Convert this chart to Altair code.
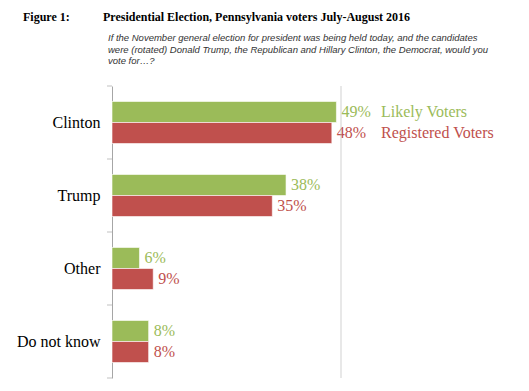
import altair as alt
import pandas as pd

categories = ["Clinton", "Trump", "Other", "Do not know"]
series = ["Likely Voters", "Registered Voters"]
likely = [49, 38, 6, 8]
registered = [48, 35, 9, 8]
colors = ["#9BBB59", "#C0504D"]

title_fig = "Figure 1:"
title_main = "Presidential Election, Pennsylvania voters July-August 2016"
subtitle_lines = [
    "If the November general election for president was being held today, and the candidates",
    "were (rotated) Donald Trump, the Republican and Hillary Clinton, the Democrat, would you",
    "vote for\u2026?",
]

SERIF = "Liberation Serif, Times New Roman, serif"
HALF = 0.288  # bar thickness as a fraction of a category band
W, H = 229, 292
n = len(categories)


def series_df(values, k):
    mids = [i + 0.5 for i in range(n)]
    if k == 0:
        y0 = [m - HALF for m in mids]
        y1 = mids
    else:
        y0 = mids
        y1 = [m + HALF for m in mids]
    return pd.DataFrame({
        "cat": categories, "val": values, "zero": [0] * n,
        "lab": [f"{v}%" for v in values],
        "y0": y0, "y1": y1, "ym": [(a + b) / 2 for a, b in zip(y0, y1)],
        "name": [series[k]] * n,
    })


cat_js = "[" + ",".join(f"'{c}'" for c in categories) + "]"
y_scale = alt.Scale(domain=[0, n], reverse=True, nice=False, zero=False)
y_axis = alt.Axis(
    title="", values=[i + 0.5 for i in range(n)],
    labelExpr=f"{cat_js}[floor(datum.value)]",
    labelFont=SERIF, labelFontSize=16, labelColor="#000000",
    domainColor="#A6A6A6", ticks=False, labelPadding=12, grid=False,
)
x_scale = alt.Scale(domain=[0, 50], nice=False, zero=False)
x_axis = alt.Axis(title="", labels=False, ticks=False, domain=False, grid=False)

layers = []
for k, vals_ in enumerate([likely, registered]):
    d = series_df(vals_, k)
    ch = alt.Chart(d)
    layers.append(ch.mark_rect(color=colors[k], stroke="white", strokeWidth=0.6).encode(
        y=alt.Y("y0:Q", scale=y_scale, axis=y_axis), y2="y1:Q",
        x=alt.X("zero:Q", scale=x_scale, axis=x_axis), x2="val:Q"))
    layers.append(ch.mark_text(align="left", baseline="middle", dx=5,
                               font=SERIF, fontSize=16, color=colors[k]).encode(
        y=alt.Y("ym:Q", scale=y_scale, axis=y_axis),
        x=alt.X("val:Q", scale=x_scale, axis=x_axis), text="lab:N"))
    dn = d.iloc[:1]
    layers.append(alt.Chart(dn).mark_text(align="left", baseline="middle",
                                          font=SERIF, fontSize=16,
                                          color=colors[k]).encode(
        y=alt.Y("ym:Q", scale=y_scale, axis=y_axis), x=alt.value(269), text="name:N"))

line_df = pd.DataFrame({"xv": [50]})
layers.append(alt.Chart(line_df).mark_tick(orient="vertical", size=H, thickness=1,
                                           color="#BFBFBF").encode(
    x=alt.X("xv:Q", scale=x_scale, axis=x_axis)))

tick_df = pd.DataFrame({"b": list(range(n + 1))})
layers.append(alt.Chart(tick_df).mark_tick(orient="horizontal", size=5, thickness=1,
                                           color="#A6A6A6").encode(
    y=alt.Y("b:Q", scale=y_scale, axis=y_axis), x=alt.value(-2.5)))

one = pd.DataFrame({"a": [0]})


def txt(s, x, y, **kw):
    return alt.Chart(one).mark_text(text=s, align="left", baseline="middle", **kw).encode(
        x=alt.value(x), y=alt.value(y))


layers.append(txt(title_fig, -89, -69, font=SERIF, fontSize=12,
                  fontWeight="bold", color="#000000"))
layers.append(txt(title_main, -9, -69, font=SERIF, fontSize=12,
                  fontWeight="bold", color="#000000"))
for s, yy in zip(subtitle_lines, [-48, -36.5, -25]):
    layers.append(txt(s, -4, yy, font="Liberation Sans", fontSize=9.5,
                      fontStyle="italic", color="#333333"))

chart = alt.layer(*layers).properties(
    width=W, height=H,
    autosize=alt.AutoSizeParams(type="none"),
    padding={"left": 104, "top": 78, "right": 180, "bottom": 5},
).configure_view(stroke="transparent")

chart.save("out.html", embed_options={"renderer": "svg", "actions": False})
